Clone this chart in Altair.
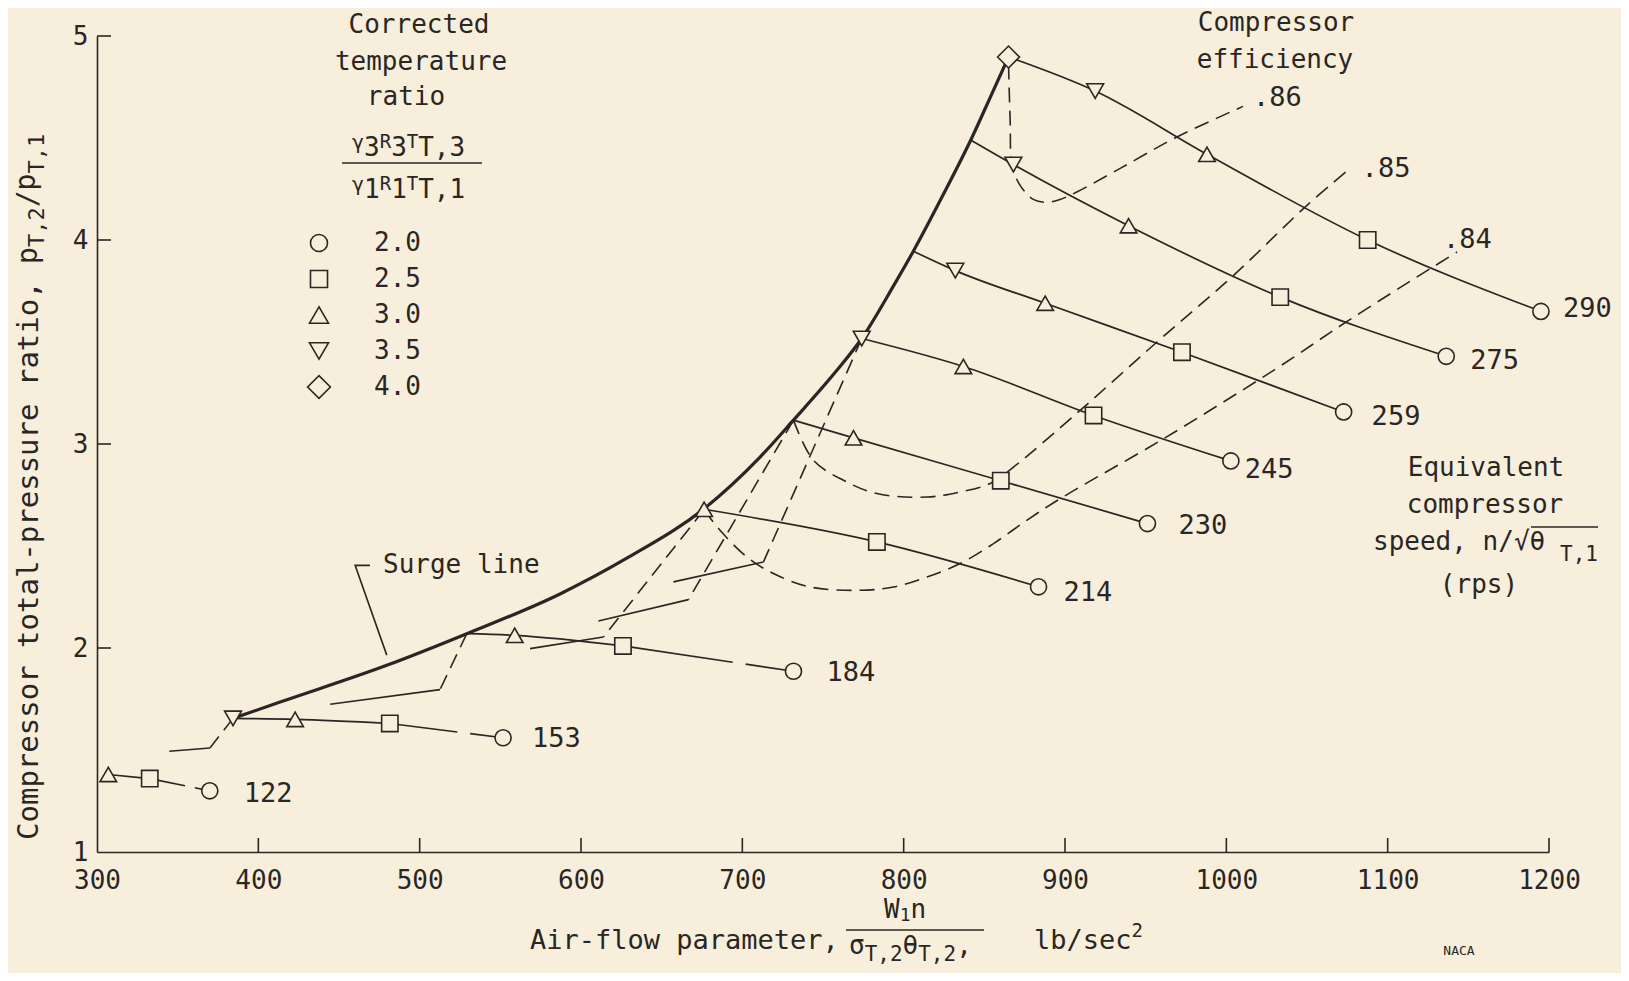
import altair as alt
import pandas as pd

INK = "#2a2623"
PAPER = "#f7eedc"
FONT = "DejaVu Sans Mono"

# ---------------- data (x = air-flow parameter, y = pressure ratio) ----------------
# r_* = corrected temperature ratio marker ("" = point on surge line, no marker)
x_122 = [307.0, 332.7, 369.9]
y_122 = [1.38, 1.36, 1.30]
r_122 = ["3.0", "2.5", "2.0"]
x_153 = [384.3, 422.8, 481.5, 551.7]
y_153 = [1.655, 1.65, 1.63, 1.56]
r_153 = ["3.5", "3.0", "2.5", "2.0"]
x_184 = [529.2, 558.9, 626.0, 731.7]
y_184 = [2.07, 2.062, 2.01, 1.886]
r_184 = ["", "3.0", "2.5", "2.0"]
x_214 = [676.3, 783.4, 883.6]
y_214 = [2.68, 2.52, 2.30]
r_214 = ["3.0", "2.5", "2.0"]
x_230 = [731.7, 768.9, 860.2, 951.1]
y_230 = [3.117, 3.03, 2.82, 2.61]
r_230 = ["", "3.0", "2.5", "2.0"]
x_245 = [774.0, 837.0, 917.7, 1002.8]
y_245 = [3.517, 3.38, 3.14, 2.917]
r_245 = ["3.5", "3.0", "2.5", "2.0"]
x_259 = [806.0, 832.0, 887.7, 972.5, 1072.7]
y_259 = [3.945, 3.85, 3.69, 3.45, 3.157]
r_259 = ["", "3.5", "3.0", "2.5", "2.0"]
x_275 = [841.6, 868.0, 939.4, 1033.4, 1136.3]
y_275 = [4.49, 4.37, 4.07, 3.72, 3.43]
r_275 = ["", "3.5", "3.0", "2.5", "2.0"]
x_290 = [865.0, 918.7, 988.0, 1087.6, 1195.0]
y_290 = [4.897, 4.73, 4.42, 4.00, 3.65]
r_290 = ["4.0", "3.5", "3.0", "2.5", "2.0"]

speeds = [122, 153, 184, 214, 230, 245, 259, 275, 290]

surge_x = [384.3, 413.5, 479.6, 529.2, 587.0, 628.4, 676.3, 711.0, 731.7, 758.6,
           774.0, 793.7, 806.0, 824.7, 841.6, 855.7, 865.0]
surge_y = [1.655, 1.735, 1.915, 2.07, 2.265, 2.44, 2.683, 2.936, 3.117, 3.361,
           3.517, 3.775, 3.945, 4.225, 4.49, 4.735, 4.897]

eff_86_x = [865.0, 866.0, 867.3, 872.2, 880.3, 889.0, 897.0, 907.0, 934.2, 969.4, 1010.3]
eff_86_y = [4.86, 4.587, 4.361, 4.268, 4.199, 4.185, 4.199, 4.234, 4.351, 4.505, 4.655]
eff_85_x = [731.7, 744.1, 762.7, 783.4, 814.4, 835.0, 853.6, 868.1, 909.4, 957.0, 1004.5, 1050.0, 1075.8]
eff_85_y = [3.117, 2.92, 2.822, 2.757, 2.74, 2.765, 2.806, 2.887, 3.165, 3.5, 3.827, 4.17, 4.345]
eff_84_x = [676.3, 686.2, 702.8, 719.3, 742.0, 773.0, 793.7, 814.4, 835.0, 855.7, 876.3, 897.0,
            961.1, 1029.3, 1075.8, 1127.5, 1143.0]
eff_84_y = [2.678, 2.577, 2.446, 2.365, 2.299, 2.283, 2.299, 2.348, 2.414, 2.512, 2.626, 2.732,
            3.026, 3.361, 3.606, 3.865, 3.941]
eff_labels = [".86", ".85", ".84"]

hook_surge_x = [384.3, 529.2, 676.3, 731.7, 774.0]
hook_surge_y = [1.655, 2.07, 2.678, 3.117, 3.517]
hook_knee_x = [370.0, 512.6, 613.9, 666.6, 713.1]
hook_knee_y = [1.51, 1.796, 2.054, 2.237, 2.422]
hook_end_x = [344.8, 444.5, 568.4, 610.8, 657.3]
hook_end_y = [1.494, 1.724, 1.997, 2.132, 2.324]

leader_x = [469.2, 460.0, 479.6]
leader_y = [2.405, 2.405, 1.965]

ratio_values = ["2.0", "2.5", "3.0", "3.5", "4.0"]
x_ticks = [300, 400, 500, 600, 700, 800, 900, 1000, 1100, 1200]
y_ticks = [1, 2, 3, 4, 5]

# ---------------- styles ----------------
SHAPES = ["circle", "square", "triangle-up", "triangle-down", "diamond"]
MARK_SIZES = [260, 290, 360, 360, 480]
LEGEND_SIZES = [290, 290, 360, 360, 520]
GAP_DASH = {122: [36, 10, 500], 153: [68, 13, 500], 184: [111, 13, 500]}
LABEL_OFF = {122: (34, 3), 153: (29, 1), 184: (33, 2), 214: (25, 6), 230: (31, 2),
             245: (14, 9), 259: (28, 5), 275: (24, 5), 290: (22, -2)}
EFF_OFF = [(10, -8), (13, -1), (-14, -12)]
OX, OY = 97, 36   # page position of the plot origin

series = [(122, x_122, y_122, r_122), (153, x_153, y_153, r_153), (184, x_184, y_184, r_184),
          (214, x_214, y_214, r_214), (230, x_230, y_230, r_230), (245, x_245, y_245, r_245),
          (259, x_259, y_259, r_259), (275, x_275, y_275, r_275), (290, x_290, y_290, r_290)]

xs = alt.Scale(domain=[300, 1200], nice=False, zero=False)
ys = alt.Scale(domain=[1, 5], nice=False, zero=False)
x_axis = alt.Axis(values=x_ticks, title=None, ticks=False, grid=False, labelFont=FONT,
                  labelFontSize=26, labelColor=INK, labelPadding=15, domainColor=INK,
                  domainWidth=1.6, format="d", labelFlush=False)
y_axis = alt.Axis(values=y_ticks, title=None, ticks=False, grid=False, labelFont=FONT,
                  labelFontSize=26, labelColor=INK, labelPadding=9, domainColor=INK,
                  domainWidth=1.6, format="d", labelFlush=False)
X = alt.X("x:Q", scale=xs, axis=x_axis)
Y = alt.Y("y:Q", scale=ys, axis=y_axis)

layers = []

# surge line
surge_df = pd.DataFrame({"x": surge_x, "y": surge_y})
layers.append(alt.Chart(surge_df).mark_line(color=INK, strokeWidth=3.2, interpolate="monotone")
              .encode(x=X, y=Y))

# speed lines
main_rows, marker_rows = [], []
for s, xv, yv, rv in series:
    n = len(xv) - 1 if s in GAP_DASH else len(xv)
    for i in range(n):
        main_rows.append({"speed": s, "i": i, "x": xv[i], "y": yv[i]})
    for i in range(len(xv)):
        if rv[i]:
            marker_rows.append({"x": xv[i], "y": yv[i], "ratio": rv[i]})
layers.append(alt.Chart(pd.DataFrame(main_rows)).mark_line(color=INK, strokeWidth=1.7, interpolate="monotone")
              .encode(x=X, y=Y, detail="speed:N", order="i:Q"))
for s, xv, yv, rv in series:
    if s in GAP_DASH:
        seg = pd.DataFrame({"x": xv[-2:], "y": yv[-2:]})
        layers.append(alt.Chart(seg).mark_line(color=INK, strokeWidth=1.7, strokeDash=GAP_DASH[s])
                      .encode(x=X, y=Y))

# efficiency contours
eff_rows = []
for lab, ex, ey in zip(eff_labels, [eff_86_x, eff_85_x, eff_84_x], [eff_86_y, eff_85_y, eff_84_y]):
    for i, (a, b) in enumerate(zip(ex, ey)):
        eff_rows.append({"eff": lab, "i": i, "x": a, "y": b})
layers.append(alt.Chart(pd.DataFrame(eff_rows)).mark_line(color=INK, strokeWidth=1.6, strokeDash=[15, 8],
                                                          interpolate="catmull-rom")
              .encode(x=X, y=Y, detail="eff:N", order="i:Q"))

# hooks below the surge line
hd, hs = [], []
for k in range(len(hook_surge_x)):
    hd += [{"h": k, "i": 0, "x": hook_surge_x[k], "y": hook_surge_y[k]},
           {"h": k, "i": 1, "x": hook_knee_x[k], "y": hook_knee_y[k]}]
    hs += [{"h": k, "i": 0, "x": hook_knee_x[k], "y": hook_knee_y[k]},
           {"h": k, "i": 1, "x": hook_end_x[k], "y": hook_end_y[k]}]
layers.append(alt.Chart(pd.DataFrame(hd)).mark_line(color=INK, strokeWidth=1.6, strokeDash=[15, 8])
              .encode(x=X, y=Y, detail="h:N", order="i:Q"))
layers.append(alt.Chart(pd.DataFrame(hs)).mark_line(color=INK, strokeWidth=1.6)
              .encode(x=X, y=Y, detail="h:N", order="i:Q"))

# surge line leader
lead = pd.DataFrame({"x": leader_x, "y": leader_y, "i": [0, 1, 2]})
layers.append(alt.Chart(lead).mark_line(color=INK, strokeWidth=1.6).encode(x=X, y=Y, order="i:Q"))

# markers
mk = pd.DataFrame(marker_rows)
layers.append(alt.Chart(mk).mark_point(filled=True, fill=PAPER, stroke=INK, strokeWidth=1.6, opacity=1)
              .encode(x=X, y=Y,
                      shape=alt.Shape("ratio:N", scale=alt.Scale(domain=ratio_values, range=SHAPES),
                                      legend=None),
                      size=alt.Size("ratio:N", scale=alt.Scale(domain=ratio_values, range=MARK_SIZES),
                                    legend=None)))
layers.append(alt.Chart(mk[mk["ratio"] == "4.0"]).mark_point(filled=True, fill=PAPER, stroke=INK,
                                                             strokeWidth=1.6, opacity=1, size=480,
                                                             shape="diamond")
              .encode(x=X, y=Y))

# inward ticks
layers.append(alt.Chart(pd.DataFrame({"x": x_ticks[1:]})).mark_rule(color=INK, strokeWidth=1.6)
              .encode(x=X, y=alt.value(816), y2=alt.value(802)))
layers.append(alt.Chart(pd.DataFrame({"y": y_ticks[1:]})).mark_rule(color=INK, strokeWidth=1.6)
              .encode(y=Y, x=alt.value(0), x2=alt.value(14)))

# speed labels
for s, xv, yv, rv in series:
    dx, dy = LABEL_OFF[s]
    layers.append(alt.Chart(pd.DataFrame({"x": [xv[-1]], "y": [yv[-1]], "t": [str(s)]}))
                  .mark_text(font=FONT, fontSize=27, color=INK, align="left", baseline="middle", dx=dx, dy=dy)
                  .encode(x=X, y=Y, text="t:N"))
# efficiency labels
for (lab, ex, ey), (dx, dy) in zip(zip(eff_labels, [eff_86_x, eff_85_x, eff_84_x], [eff_86_y, eff_85_y, eff_84_y]), EFF_OFF):
    layers.append(alt.Chart(pd.DataFrame({"x": [ex[-1]], "y": [ey[-1]], "t": [lab]}))
                  .mark_text(font=FONT, fontSize=27, color=INK, align="left", baseline="middle", dx=dx, dy=dy)
                  .encode(x=X, y=Y, text="t:N"))

ONE = pd.DataFrame({"k": [0]})
CW = 0.602


def txt(s, xf, yf, size=26, align="center", angle=0):
    return (alt.Chart(ONE).mark_text(text=s, font=FONT, fontSize=size, color=INK, align=align,
                                     baseline="middle", angle=angle)
            .encode(x=alt.value(xf - OX), y=alt.value(yf - OY)))


def segs(parts, xf, yf, angle=0):
    out, adv = [], 0.0
    for s, size, off in parts:
        if angle == 0:
            out.append(txt(s, xf + adv, yf + off, size, "left"))
        else:
            out.append(txt(s, xf + off, yf - adv, size, "left", angle))
        adv += len(s) * CW * size
    return out


def hrule(x1, x2, yf):
    return (alt.Chart(ONE).mark_rule(color=INK, strokeWidth=1.6)
            .encode(x=alt.value(x1 - OX), x2=alt.value(x2 - OX), y=alt.value(yf - OY)))


# legend (title block + symbol rows)
layers += [txt("Corrected", 419, 25), txt("temperature", 421, 62), txt("ratio", 406, 97)]
layers += segs([("γ", 20, -5), ("3", 26, 0), ("R", 19, -6), ("3", 26, 0), ("T", 19, -6), ("T,3", 26, 0)], 352, 148)
layers.append(hrule(342, 482, 163))
layers += segs([("γ", 20, -5), ("1", 26, 0), ("R", 19, -6), ("1", 26, 0), ("T", 19, -6), ("T,1", 26, 0)], 352, 190)
for k, (rv, shp, sz) in enumerate(zip(ratio_values, SHAPES, LEGEND_SIZES)):
    row_y = 243 + 36 * k
    layers.append(alt.Chart(ONE).mark_point(filled=True, fill=PAPER, stroke=INK, strokeWidth=1.6,
                                            opacity=1, size=sz, shape=shp)
                  .encode(x=alt.value(319 - OX), y=alt.value(row_y - OY)))
    layers.append(txt(rv, 374, row_y, 26, "left"))

# compressor efficiency
layers += [txt("Compressor", 1276, 23), txt("efficiency", 1275, 60)]

# equivalent speed
layers += [txt("Equivalent", 1486, 468), txt("compressor", 1485, 505)]
layers += segs([("speed, n/√θ", 26, 0)], 1373, 542)
layers.append(txt("T,1", 1560, 555, 21, "left"))
layers.append(hrule(1531, 1598, 527))
layers.append(txt("(rps)", 1479, 585))

# surge label
layers.append(txt("Surge line", 383, 565, 26, "left"))

# x title
layers += segs([("Air-flow parameter,", 27, 0)], 530, 941)
layers += segs([("W", 26, 0), ("1", 18, 6), ("n", 26, 0)], 884, 910)
layers.append(hrule(846, 984, 930))
layers += segs([("σ", 26, 0), ("T,2", 21, 9), ("θ", 26, 0), ("T,2", 21, 9), (",", 26, 0)], 849, 946)
layers += segs([("lb/sec", 27, 0), ("2", 19, -10)], 1034, 941)

# y title
layers += segs([("Compressor total-pressure ratio, ", 29, 0), ("p", 28, 0), ("T,2", 22, 8),
                ("/", 28, 0), ("p", 28, -2), ("T,1", 22, 8)],
               29, 840, angle=270)

# NACA mark
layers.append(txt("NACA", 1459, 951, 13))

chart = (alt.layer(*layers)
         .properties(width=1452, height=816, background=PAPER,
                     padding={"left": 89, "top": 28, "right": 72, "bottom": 121},
                     autosize=alt.AutoSizeParams(type="none"))
         .configure_view(stroke=None))

chart.save("out.html", embed_options={"renderer": "svg", "actions": False})
